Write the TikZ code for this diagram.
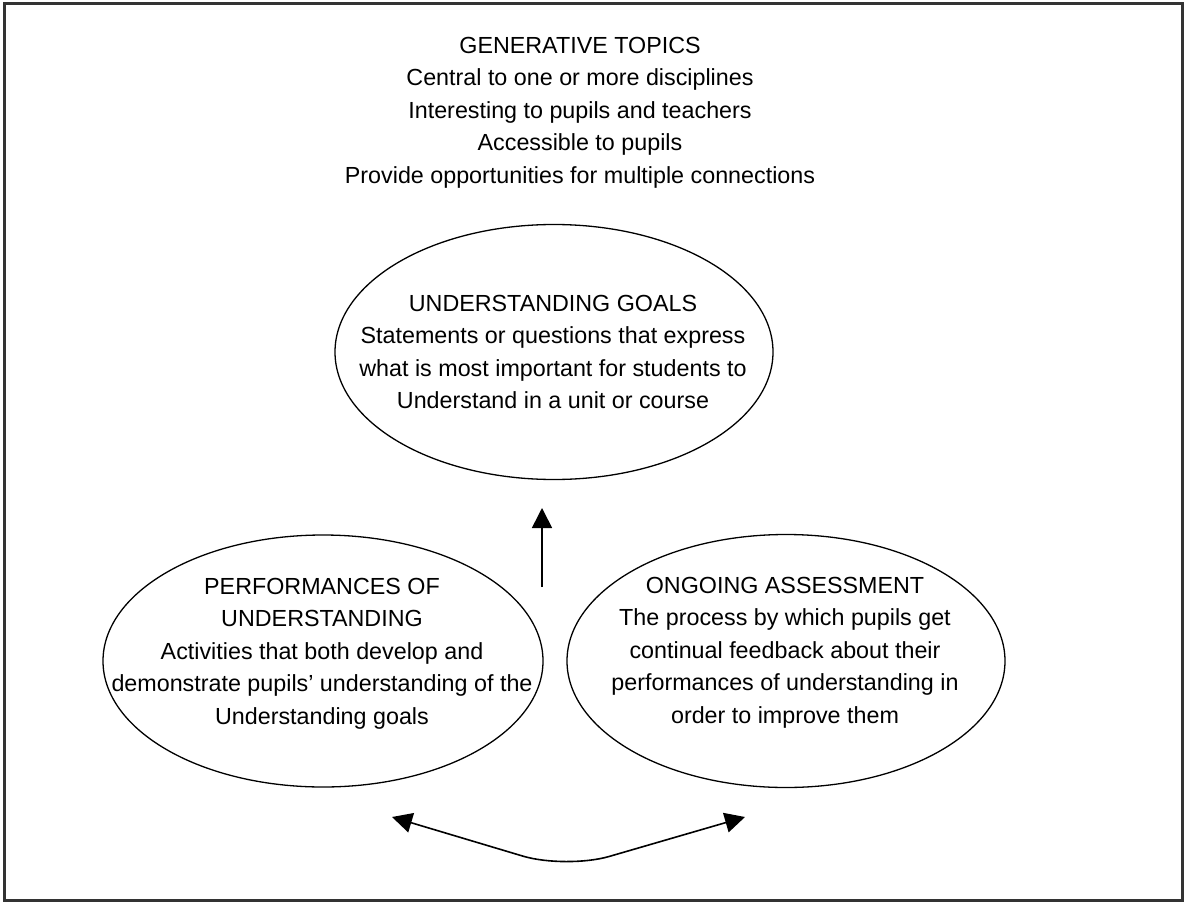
\documentclass[tikz,border=0pt]{standalone}
\usepackage{fontspec}
\setmainfont{Liberation Sans}
\usetikzlibrary{shapes.geometric,arrows.meta}

\tikzset{
    bighead/.tip={Triangle[length=20pt,width=20pt]},
    bubble/.style={ellipse, draw, line width=1.3pt, inner sep=0pt},
    blurb/.style={anchor=north, align=center, inner sep=0pt, font=\fontsize{23.3}{32.5}\selectfont},
    flow/.style={line width=1.6pt}
}

\begin{document}
\begin{tikzpicture}[x=1pt,y=-1pt]
        \useasboundingbox (0,0) rectangle (1185,904);
        \draw[line width=3pt, black!80] (4,4) rectangle (1182,900);
        \node[blurb] (topics) at (580,37) {GENERATIVE TOPICS\\Central to one or more disciplines\\Interesting to pupils and teachers\\Accessible to pupils\\Provide opportunities for multiple connections};
        \node[bubble, minimum width=438pt, minimum height=255pt] (goals) at (554,352) {};
        \node[bubble, minimum width=440pt, minimum height=252pt] (perf) at (323,661) {};
        \node[bubble, minimum width=438pt, minimum height=253pt] (assess) at (786,661) {};
        \node[blurb] (goalstext) at (553,295) {UNDERSTANDING GOALS\\Statements or questions that express\\what is most important for students to\\Understand in a unit or course};
        \node[blurb] (perftext) at (322,578) {PERFORMANCES OF\\UNDERSTANDING\\Activities that both develop and\\demonstrate pupils' understanding of the\\Understanding goals};
        \node[blurb] (assesstext) at (785,577) {ONGOING ASSESSMENT\\The process by which pupils get\\continual feedback about their\\performances of understanding in\\order to improve them};
        \coordinate (upfoot) at (542,587);
        \coordinate (uptip) at (542,508);
        \coordinate (lefttip) at (392,817);
        \coordinate (dip) at (566,869);
        \coordinate (righttip) at (745,817);
        \draw[flow, -bighead] (upfoot) -- (uptip);
        \draw[flow, bighead-bighead, rounded corners=45pt] (lefttip) -- (dip) -- (righttip);
    \end{tikzpicture}
\end{document}
